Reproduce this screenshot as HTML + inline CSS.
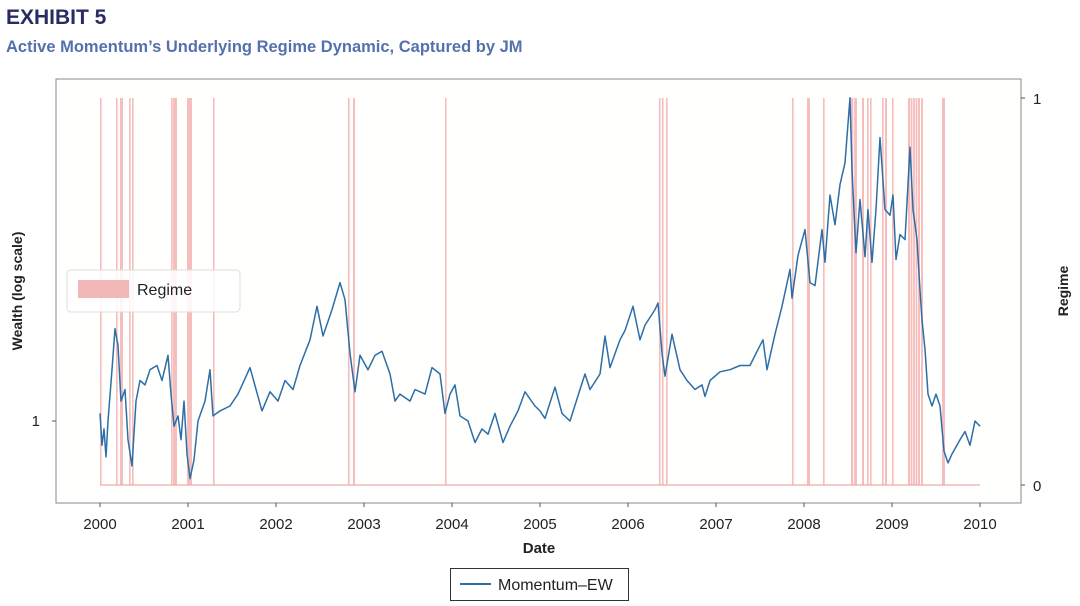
<!DOCTYPE html>
<html><head><meta charset="utf-8"><style>
body{margin:0;background:#fff;font-family:"Liberation Sans",sans-serif;}
svg{display:block}
</style></head><body>
<svg id="chart" width="1080" height="606" xmlns="http://www.w3.org/2000/svg">
<text x="6" y="24" font-size="21" font-weight="bold" fill="#2b2b63">EXHIBIT 5</text>
<text x="6" y="52" font-size="16.5" font-weight="bold" fill="#5571ad">Active Momentum’s Underlying Regime Dynamic, Captured by JM</text>
<rect x="56" y="79" width="965" height="424" fill="#fffffd" stroke="#888" stroke-width="1"/>
<g id="regimes"></g>
<g id="lineg"></g>
<g id="xaxis"></g>
<text x="40" y="426" font-size="15" text-anchor="end" fill="#222">1</text>
<line x1="52" y1="421" x2="56" y2="421" stroke="#555"/>
<line x1="1021" y1="98" x2="1025" y2="98" stroke="#555"/>
<line x1="1021" y1="485" x2="1025" y2="485" stroke="#555"/>
<text x="1033" y="104" font-size="15" fill="#222">1</text>
<text x="1033" y="491" font-size="15" fill="#222">0</text>
<text transform="translate(22,291) rotate(-90)" font-size="14" font-weight="bold" text-anchor="middle" fill="#222">Wealth (log scale)</text>
<text transform="translate(1068,291) rotate(-90)" font-size="14" font-weight="bold" text-anchor="middle" fill="#222">Regime</text>
<text x="539" y="553" font-size="15" font-weight="bold" text-anchor="middle" fill="#222">Date</text>
<g>
<rect x="67" y="270" width="173" height="42" rx="4" fill="#fff" fill-opacity="0.85" stroke="#ddd"/>
<rect x="78" y="280" width="51" height="18" fill="#f2b8b8"/>
<text x="137" y="295" font-size="16" fill="#222">Regime</text>
</g>
<g>
<rect x="450.5" y="568.5" width="178" height="32" fill="#fff" stroke="#333"/>
<line x1="460" y1="584" x2="491" y2="584" stroke="#2d6ea8" stroke-width="2"/>
<text x="498" y="590" font-size="16" fill="#222">Momentum–EW</text>
</g>
</svg>
<script>
const xTicks=[2000,2001,2002,2003,2004,2005,2006,2007,2008,2009,2010];
const regimeStart=[2000.0,2000.182,2000.227,2000.33,2000.364,2000.807,2000.83,2000.989,2001.284,2002.818,2002.875,2003.92,2006.352,2006.386,2006.432,2007.864,2008.034,2008.216,2008.534,2008.570,2008.659,2008.716,2008.75,2008.886,2008.920,2009.0,2009.182,2009.212,2009.240,2009.268,2009.296,2009.330,2009.568];
const regimeEnd=[2000.012,2000.194,2000.261,2000.342,2000.376,2000.819,2000.875,2001.045,2001.296,2002.83,2002.898,2003.932,2006.364,2006.398,2006.444,2007.876,2008.068,2008.228,2008.560,2008.602,2008.682,2008.728,2008.762,2008.905,2008.943,2009.012,2009.205,2009.232,2009.260,2009.288,2009.318,2009.352,2009.602];
const years=[2000.000,2000.023,2000.045,2000.068,2000.091,2000.136,2000.170,2000.205,2000.239,2000.284,2000.318,2000.364,2000.409,2000.455,2000.511,2000.568,2000.648,2000.705,2000.773,2000.807,2000.841,2000.886,2000.920,2000.955,2000.989,2001.023,2001.068,2001.114,2001.193,2001.250,2001.284,2001.364,2001.477,2001.568,2001.705,2001.841,2001.932,2002.023,2002.102,2002.193,2002.273,2002.386,2002.466,2002.534,2002.636,2002.727,2002.784,2002.841,2002.898,2002.955,2003.045,2003.125,2003.205,2003.295,2003.352,2003.409,2003.523,2003.580,2003.693,2003.773,2003.864,2003.920,2003.977,2004.034,2004.091,2004.182,2004.261,2004.341,2004.409,2004.489,2004.580,2004.659,2004.750,2004.830,2004.943,2005.000,2005.057,2005.170,2005.250,2005.341,2005.455,2005.511,2005.568,2005.682,2005.739,2005.795,2005.909,2005.966,2006.057,2006.136,2006.193,2006.307,2006.341,2006.386,2006.420,2006.500,2006.591,2006.670,2006.761,2006.841,2006.875,2006.932,2007.045,2007.159,2007.273,2007.386,2007.477,2007.534,2007.580,2007.670,2007.750,2007.841,2007.864,2007.932,2008.011,2008.068,2008.125,2008.205,2008.239,2008.295,2008.352,2008.409,2008.466,2008.523,2008.545,2008.591,2008.636,2008.693,2008.727,2008.773,2008.818,2008.864,2008.920,2008.977,2009.011,2009.045,2009.091,2009.148,2009.205,2009.239,2009.284,2009.318,2009.341,2009.375,2009.409,2009.455,2009.500,2009.545,2009.591,2009.636,2009.682,2009.773,2009.830,2009.886,2009.943,2010.000];
const wealth=[1.03,0.91,0.97,0.87,1.00,1.22,1.43,1.34,1.08,1.13,0.93,0.84,1.08,1.17,1.15,1.22,1.24,1.17,1.29,1.11,0.98,1.02,0.93,1.08,0.88,0.80,0.86,1.00,1.08,1.22,1.02,1.04,1.06,1.11,1.23,1.04,1.12,1.08,1.17,1.13,1.24,1.37,1.56,1.39,1.54,1.71,1.60,1.30,1.12,1.29,1.22,1.29,1.31,1.20,1.08,1.11,1.08,1.13,1.11,1.23,1.20,1.03,1.11,1.15,1.02,1.00,0.92,0.97,0.95,1.03,0.92,0.98,1.04,1.12,1.06,1.04,1.01,1.14,1.03,1.00,1.13,1.20,1.13,1.20,1.39,1.23,1.37,1.42,1.56,1.37,1.45,1.54,1.58,1.30,1.19,1.40,1.22,1.17,1.13,1.15,1.10,1.17,1.21,1.22,1.24,1.24,1.32,1.37,1.22,1.40,1.56,1.80,1.61,1.90,2.10,1.71,1.69,2.10,1.85,2.40,2.14,2.50,2.72,3.50,2.65,1.92,2.36,1.89,2.27,1.85,2.27,3.00,2.27,2.22,2.40,1.87,2.06,2.02,2.89,2.27,2.02,1.66,1.48,1.32,1.11,1.06,1.11,1.06,0.89,0.85,0.88,0.93,0.96,0.91,1.00,0.98];

const NS='http://www.w3.org/2000/svg';
const X0=100,PXY=88,Y1=421,K=258,RTOP=98,RBOT=485;
function xs(y){return X0+(y-2000)*PXY;}
function ys(w){return Y1-K*Math.log(w);}
const rg=document.getElementById('regimes');
const base=document.createElementNS(NS,'line');
base.setAttribute('x1',xs(2000));base.setAttribute('x2',xs(2010));
base.setAttribute('y1',RBOT);base.setAttribute('y2',RBOT);
base.setAttribute('stroke','#f2b8b8');base.setAttribute('stroke-width','1.5');


rg.appendChild(base);
for(let i=0;i<regimeStart.length;i++){
  const r=document.createElementNS(NS,'rect');
  const a=xs(regimeStart[i]),b=xs(regimeEnd[i]);
  r.setAttribute('x',a);r.setAttribute('width',Math.max(1.6,b-a));
  r.setAttribute('y',RTOP);r.setAttribute('height',RBOT-RTOP);
  r.setAttribute('fill','#ef9a9a');r.setAttribute('fill-opacity','0.65');
  
  
  rg.appendChild(r);
}
const lg=document.getElementById('lineg');
let d='';
for(let i=0;i<years.length;i++){d+=(i?'L':'M')+xs(years[i]).toFixed(1)+' '+ys(wealth[i]).toFixed(1);}
const p=document.createElementNS(NS,'path');
p.setAttribute('d',d);p.setAttribute('fill','none');p.setAttribute('stroke','#2d6ea8');
p.setAttribute('stroke-width','1.5');p.setAttribute('stroke-linejoin','round');


lg.appendChild(p);
const xa=document.getElementById('xaxis');
xTicks.forEach(t=>{
  const l=document.createElementNS(NS,'line');
  l.setAttribute('x1',xs(t));l.setAttribute('x2',xs(t));l.setAttribute('y1',503);l.setAttribute('y2',507);
  l.setAttribute('stroke','#555');
  
  
  xa.appendChild(l);
  const tx=document.createElementNS(NS,'text');
  tx.setAttribute('x',xs(t));tx.setAttribute('y',529);tx.setAttribute('font-size','15');
  tx.setAttribute('text-anchor','middle');tx.setAttribute('fill','#222');
  tx.textContent=t;
  
  
  xa.appendChild(tx);
});
</script>
</body></html>
